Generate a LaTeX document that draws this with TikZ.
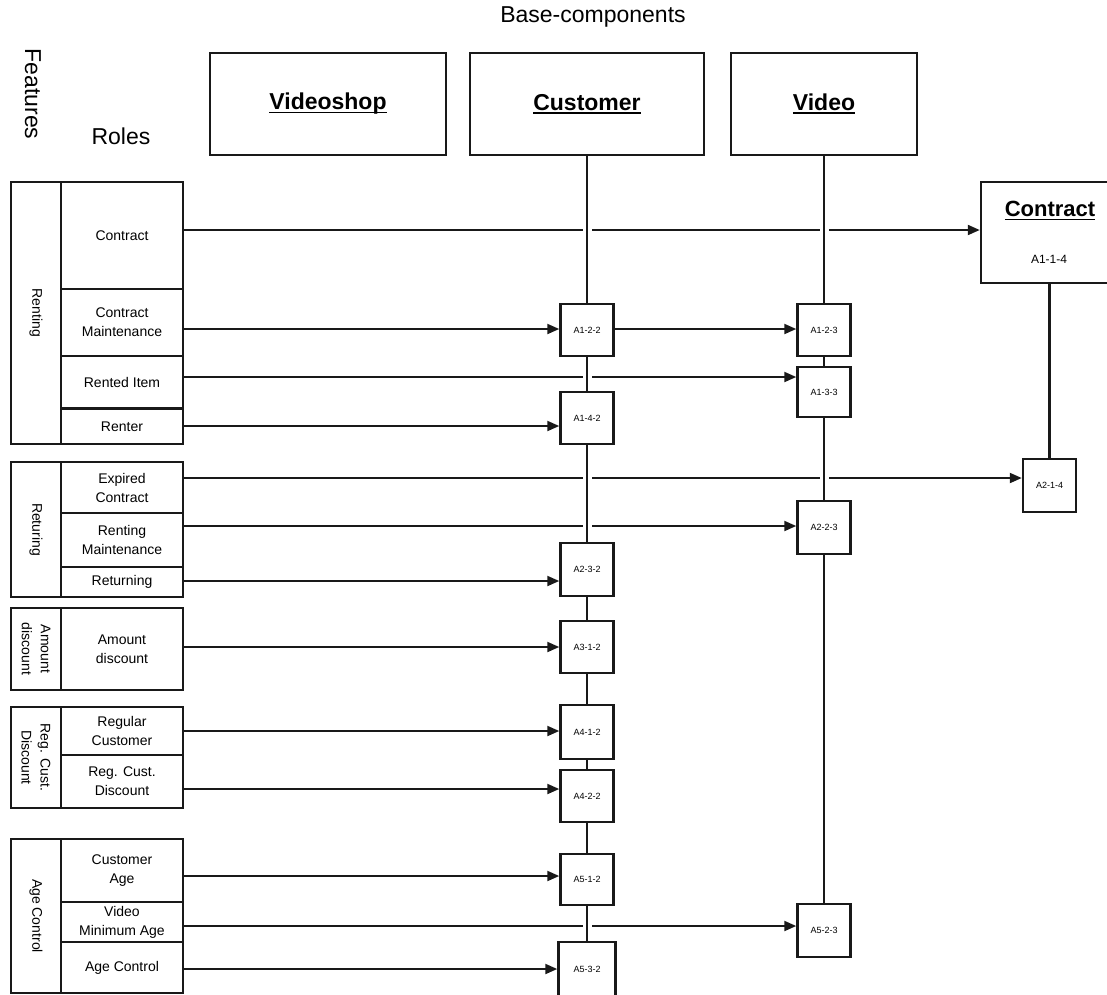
\documentclass[tikz,border=0pt]{standalone}
\usepackage{fontspec}
\setmainfont{Liberation Sans}
\usetikzlibrary{arrows.meta}
\pgfdeclarelayer{hlines}
\pgfdeclarelayer{lifel}
\pgfsetlayers{hlines,lifel,main}
\newcommand\myul[1]{\setbox0\hbox{#1}\rlap{\rule[-3.5pt]{\wd0}{1.8pt}}\box0}
\begin{document}
\begin{tikzpicture}[x=1pt,y=-1pt,
  box/.style={draw=black!90, line width=2.5pt, fill=white, inner sep=0pt},
  bigbox/.style={box, font=\fontsize{23}{27}\selectfont\bfseries},
  lane/.style={draw=black!90, line width=2.3pt, inner sep=0pt, align=center, font=\fontsize{14}{19}\selectfont},
  role/.style={lane, minimum width=122pt},
  feat/.style={lane, rotate=-90, minimum height=50pt},
  act/.style={box, minimum width=53pt, minimum height=52pt, font=\fontsize{9}{10}\selectfont},
  title/.style={font=\fontsize{23}{27}\selectfont},
  conn/.style={draw=black!90, line width=2.1pt},
  arr/.style={conn, -{Triangle[length=12pt,width=10pt]}},
  life/.style={draw=black!90, line width=2.1pt, preaction={draw=white, line width=9pt}}]
\clip (0,0) rectangle (1107,994);

% headings
\node[title] (basecomp) at (593,17) {Base-components};
\node[title, rotate=-90] (features) at (33,94) {Features};
\node[title] (roles) at (121,136) {Roles};

% base components
\node[bigbox, minimum width=236pt, minimum height=102pt] (vshop) at (328,104) {\myul{Videoshop}};
\node[bigbox, minimum width=234pt, minimum height=102pt] (cust) at (587,104) {\myul{Customer}};
\node[bigbox, minimum width=186pt, minimum height=102pt] (vid) at (824,104) {\myul{Video}};
\node[box, minimum width=136pt, minimum height=101pt] (con) at (1049,232.5) {};
\node[font=\fontsize{22}{26}\selectfont\bfseries] (contitle) at (1050,211) {\myul{Contract}};
\node[font=\fontsize{12}{14}\selectfont] (conid) at (1049,259) {A1-1-4};

% features
\node[feat, minimum width=262pt] (renting) at (36,313) {Renting};
\node[feat, minimum width=135pt] (returing) at (36,529.5) {Returing};
\node[feat, minimum width=82pt] (amountd) at (36,649) {Amount\\discount};
\node[feat, minimum width=101pt] (regcd) at (36,757.5) {Reg. Cust.\\Discount};
\node[feat, minimum width=154pt] (agec) at (36,916) {Age Control};

% roles
\node[role, minimum height=107pt] (rcontract) at (122,235.5) {Contract};
\node[role, minimum height=67pt] (rcm) at (122,322.5) {Contract\\Maintenance};
\node[role, minimum height=52.5pt] (rri) at (122,382.25) {Rented Item};
\node[role, minimum height=35.5pt] (rrenter) at (122,426.25) {Renter};
\node[role, minimum height=51pt] (rec) at (122,487.5) {Expired\\Contract};
\node[role, minimum height=54pt] (rrm) at (122,540) {Renting\\Maintenance};
\node[role, minimum height=30pt] (rret) at (122,582) {Returning};
\node[role, minimum height=82pt] (rad) at (122,649) {Amount\\discount};
\node[role, minimum height=48pt] (rrc) at (122,731) {Regular\\Customer};
\node[role, minimum height=53pt] (rrcd) at (122,781.5) {Reg. Cust.\\Discount};
\node[role, minimum height=63pt] (rca) at (122,870.5) {Customer\\Age};
\node[role, minimum height=40pt] (rvma) at (122,922) {Video\\Minimum Age};
\node[role, minimum height=51pt] (rac) at (122,967.5) {Age Control};

% activity boxes
\node[act] (a122) at (587,330) {A1-2-2};
\node[act] (a123) at (824,330) {A1-2-3};
\node[act, minimum height=50pt] (a133) at (824,392) {A1-3-3};
\node[act] (a142) at (587,418) {A1-4-2};
\node[act, minimum height=53pt] (a214) at (1049.5,485.5) {A2-1-4};
\node[act, minimum height=53pt] (a223) at (824,527.5) {A2-2-3};
\node[act, minimum height=53pt] (a232) at (587,569.5) {A2-3-2};
\node[act] (a312) at (587,647) {A3-1-2};
\node[act, minimum height=54pt] (a412) at (587,732) {A4-1-2};
\node[act] (a422) at (587,796) {A4-2-2};
\node[act, minimum height=51pt] (a512) at (587,879.5) {A5-1-2};
\node[act, minimum height=53pt] (a523) at (824,930.5) {A5-2-3};
\node[act, minimum width=57pt, minimum height=54pt] (a532) at (587,969) {A5-3-2};

% horizontal connectors
\begin{pgfonlayer}{hlines}
\draw[arr] (rcontract.east |- 0,230) -- (con.west |- 0,230);
\draw[arr] (rcm.east |- 0,329) -- (a122.west |- 0,329);
\draw[arr] (a122.east |- 0,329) -- (a123.west |- 0,329);
\draw[arr] (rri.east |- 0,377) -- (a133.west |- 0,377);
\draw[arr] (rrenter.east |- 0,426) -- (a142.west |- 0,426);
\draw[arr] (rec.east |- 0,478) -- (a214.west |- 0,478);
\draw[arr] (rrm.east |- 0,526) -- (a223.west |- 0,526);
\draw[arr] (rret.east |- 0,581) -- (a232.west |- 0,581);
\draw[arr] (rad.east |- 0,647) -- (a312.west |- 0,647);
\draw[arr] (rrc.east |- 0,731) -- (a412.west |- 0,731);
\draw[arr] (rrcd.east |- 0,789) -- (a422.west |- 0,789);
\draw[arr] (rca.east |- 0,876) -- (a512.west |- 0,876);
\draw[arr] (rvma.east |- 0,926) -- (a523.west |- 0,926);
\draw[arr] (rac.east |- 0,969) -- (a532.west |- 0,969);
\end{pgfonlayer}

% lifelines
\begin{pgfonlayer}{lifel}
\draw[life] (cust.south) -- (a532.north);
\draw[life] (vid.south) -- (a523.north);
\draw[life] (a214.north |- con.south) -- (a214.north);
\end{pgfonlayer}
\end{tikzpicture}
\end{document}
